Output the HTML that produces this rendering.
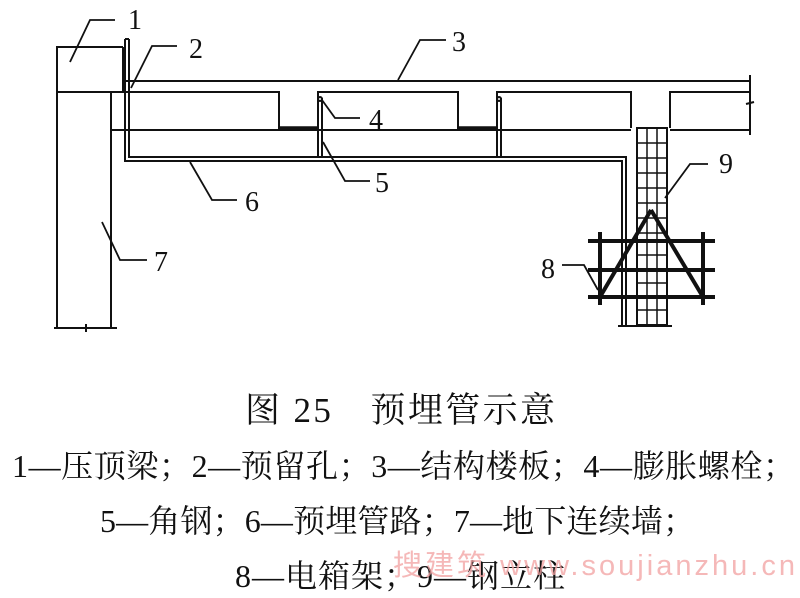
<!DOCTYPE html>
<html><head><meta charset="utf-8"><style>
html,body{margin:0;padding:0;background:#fff;}
svg{display:block;}
</style></head><body>
<svg width="800" height="598" viewBox="0 0 800 598" xmlns="http://www.w3.org/2000/svg">
<g fill="none" stroke="#111" stroke-width="2">
<polyline points="123,47 57,47 57,327"/>
<line x1="123" y1="47" x2="123" y2="93"/>
<line x1="57" y1="92" x2="125" y2="92"/>
<line x1="111" y1="93" x2="111" y2="327"/>
<line x1="54" y1="328" x2="117" y2="328"/>
<line x1="86" y1="324" x2="86" y2="332"/>
<line x1="125" y1="81" x2="750" y2="81"/>
<polyline points="125,92 279,92 279,128 318,128 318,92 458,92 458,128 497,128 497,92 631,92 631,128"/>
<polyline points="670,128 670,92 750,92"/>
<line x1="111" y1="130" x2="631" y2="130"/>
<line x1="670" y1="130" x2="750" y2="130"/>
<line x1="750" y1="75" x2="750" y2="135"/>
<line x1="746" y1="104" x2="754" y2="102"/>
<line x1="279" y1="128" x2="318" y2="128" stroke-width="3.5"/>
<line x1="458" y1="128" x2="497" y2="128" stroke-width="3.5"/>
<polyline points="125,39 125,161 622,161 622,327"/>
<polyline points="129,39 129,157 626,157 626,327"/>
<line x1="125" y1="39" x2="129" y2="39"/>
<line x1="318" y1="98" x2="318" y2="157"/><line x1="322" y1="98" x2="322" y2="157"/>
<line x1="497" y1="98" x2="497" y2="157"/><line x1="501" y1="98" x2="501" y2="157"/>
<circle cx="320" cy="99" r="2"/><circle cx="499" cy="99" r="2"/>
<rect x="637" y="128" width="30" height="197"/>
<line x1="647" y1="128" x2="647" y2="325" stroke-width="1.5"/>
<line x1="657" y1="128" x2="657" y2="325" stroke-width="1.5"/>
<g stroke-width="1.5">
<line x1="637" y1="143" x2="667" y2="143"/><line x1="637" y1="158" x2="667" y2="158"/>
<line x1="637" y1="173" x2="667" y2="173"/><line x1="637" y1="188" x2="667" y2="188"/>
<line x1="637" y1="203" x2="667" y2="203"/><line x1="637" y1="218" x2="667" y2="218"/>
<line x1="637" y1="233" x2="667" y2="233"/><line x1="637" y1="255" x2="667" y2="255"/>
<line x1="637" y1="283" x2="667" y2="283"/><line x1="637" y1="310" x2="667" y2="310"/>
</g>
<line x1="618" y1="326" x2="672" y2="326"/>
<g stroke-width="4">
<line x1="588" y1="241" x2="715" y2="241"/>
<line x1="588" y1="270" x2="715" y2="270"/>
<line x1="588" y1="297" x2="715" y2="297"/>
<line x1="600" y1="232" x2="600" y2="305"/>
<line x1="703" y1="232" x2="703" y2="305"/>
<line x1="600" y1="297" x2="651" y2="210"/>
<line x1="651" y1="210" x2="703" y2="297"/>
</g>
<g stroke-width="1.8">
<polyline points="70,62 90,20 115,20"/>
<polyline points="131,88 152,46 177,46"/>
<polyline points="398,80 420,40 446,40"/>
<polyline points="322,100 335,118 360,118"/>
<polyline points="323,142 345,181 370,181"/>
<polyline points="190,162 212,200 237,200"/>
<polyline points="102,222 120,260 147,260"/>
<polyline points="665,198 690,164 708,164"/>
<polyline points="562,265 584,265 598,290"/>
</g>
</g>
<g font-family="Liberation Serif, serif" font-size="28" fill="#111">
<text x="128" y="29">1</text>
<text x="189" y="58">2</text>
<text x="452" y="51">3</text>
<text x="369" y="129">4</text>
<text x="375" y="192">5</text>
<text x="245" y="211">6</text>
<text x="154" y="271">7</text>
<text x="719" y="173">9</text>
<text x="541" y="278">8</text>
</g>
<g font-family="Liberation Serif, 'Noto Serif CJK SC', serif" fill="#111">
<text x="245" y="422" font-size="35" textLength="310" lengthAdjust="spacing">图 25　预埋管示意</text>
<text x="12" y="477" font-size="32" textLength="783" lengthAdjust="spacing">1—压顶梁；2—预留孔；3—结构楼板；4—膨胀螺栓；</text>
<text x="100" y="532" font-size="32" textLength="595" lengthAdjust="spacing">5—角钢；6—预埋管路；7—地下连续墙；</text>
<text x="235" y="587" font-size="32" textLength="330" lengthAdjust="spacing">8—电箱架；9—钢立柱</text>
</g>
<text x="393" y="575" font-family="'Liberation Sans','Noto Sans CJK SC',sans-serif" font-size="29" fill="#f2a0a0" fill-opacity="0.75" textLength="402" lengthAdjust="spacing">搜建筑 www.soujianzhu.cn</text>
</svg>
</body></html>
